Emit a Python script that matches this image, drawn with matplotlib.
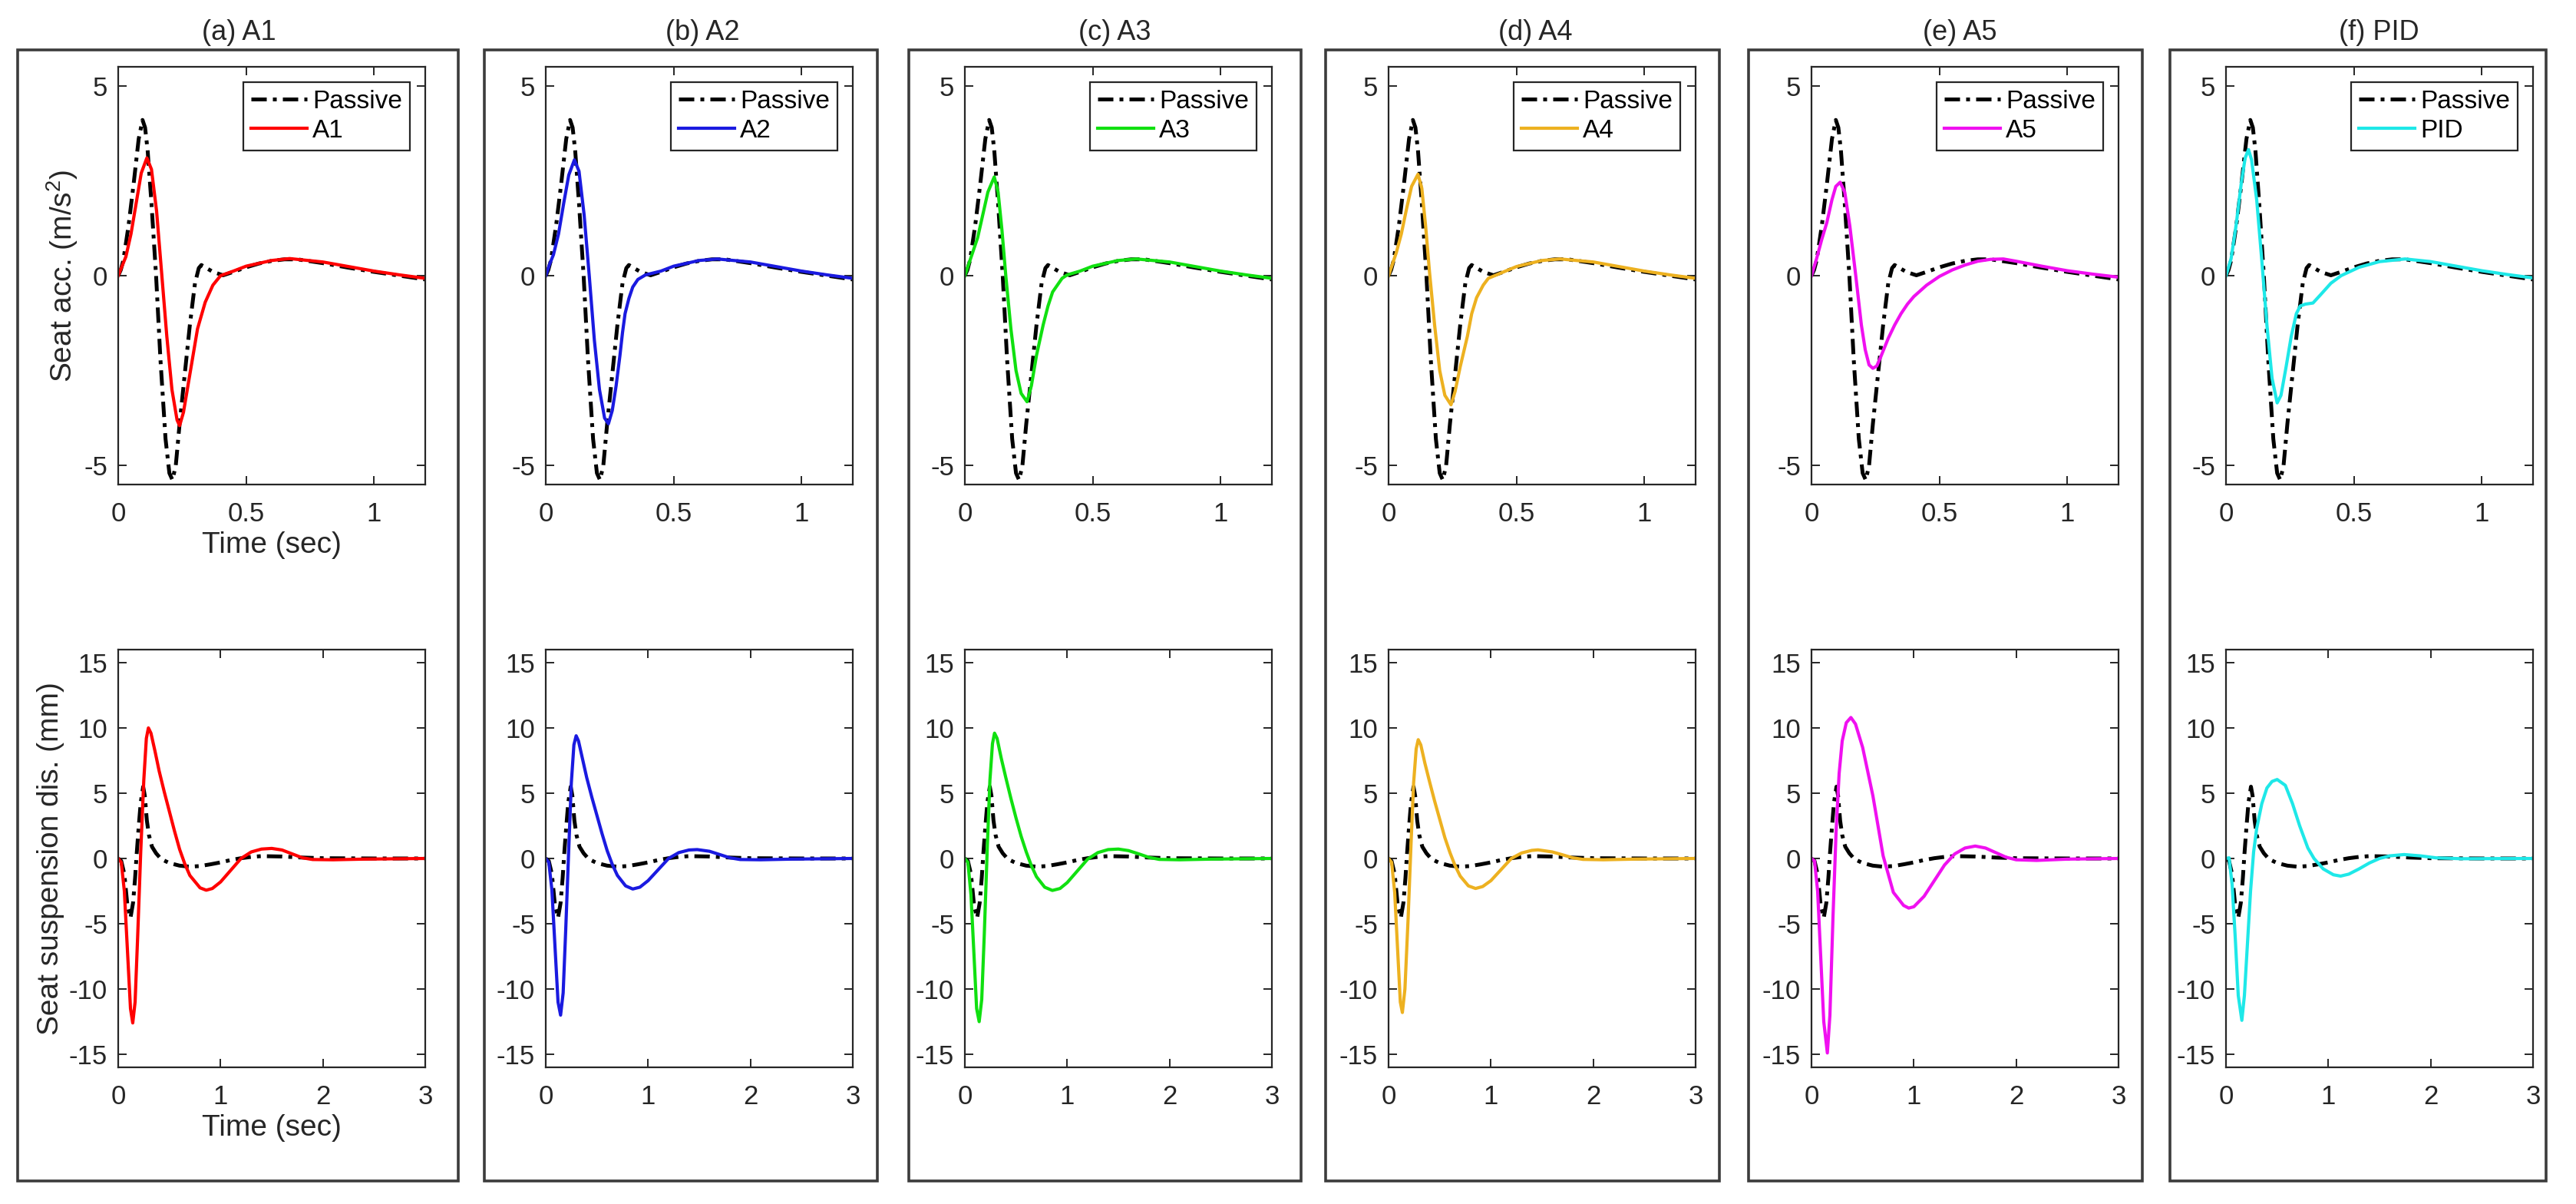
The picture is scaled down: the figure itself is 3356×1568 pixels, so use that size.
import matplotlib
matplotlib.use('Agg')
from matplotlib import pyplot as plt
from matplotlib.patches import Rectangle

plt.rcParams['font.family'] = ['Liberation Sans', 'DejaVu Sans']
plt.rcParams['mathtext.fontset'] = 'custom'
plt.rcParams['mathtext.rm'] = 'Liberation Sans'
plt.rcParams['mathtext.default'] = 'regular'
plt.rcParams['axes.unicode_minus'] = False

# ---- data ----
titles = ['(a) A1', '(b) A2', '(c) A3', '(d) A4', '(e) A5', '(f) PID']
names = ['A1', 'A2', 'A3', 'A4', 'A5', 'PID']
colors = ['#ff0000', '#1a1ae0', '#10e010', '#EDB120', '#f010f0', '#1ee8e8']

# seat acceleration (m/s^2), passive
t_acc_p = [0, 0.01, 0.02, 0.04, 0.06, 0.08, 0.095, 0.105, 0.115, 0.13, 0.148, 0.165, 0.185, 0.2, 0.212,
           0.225, 0.24, 0.26, 0.28, 0.30, 0.315, 0.325, 0.34, 0.37, 0.41, 0.45, 0.5, 0.55, 0.6, 0.65,
           0.7, 0.8, 0.9, 1.0, 1.1, 1.2]
acc_p = [0, 0.15, 0.4, 1.3, 2.4, 3.6, 4.1, 3.9, 3.3, 1.9, 0.0, -2.2, -4.3, -5.2, -5.38,
         -5.0, -3.9, -2.6, -1.3, -0.2, 0.2, 0.28, 0.22, 0.1, 0.01, 0.1, 0.22, 0.32, 0.39, 0.43,
         0.43, 0.33, 0.21, 0.1, 0.0, -0.1]

t_acc_a1 = [0, 0.015, 0.03, 0.05, 0.07, 0.09, 0.112, 0.13, 0.15, 0.17, 0.19, 0.21, 0.23, 0.24, 0.255,
            0.27, 0.29, 0.31, 0.34, 0.37, 0.40, 0.45, 0.5, 0.6, 0.67, 0.8, 0.9, 1.0, 1.1, 1.2]
acc_a1 = [0, 0.25, 0.5, 1.1, 1.9, 2.7, 3.1, 2.8, 1.7, 0.05, -1.6, -3.0, -3.8, -3.95, -3.6,
          -3.0, -2.2, -1.4, -0.7, -0.25, 0.0, 0.12, 0.25, 0.4, 0.45, 0.36, 0.24, 0.12, 0.02, -0.07]

t_acc_a2 = [0, 0.015, 0.03, 0.05, 0.07, 0.09, 0.112, 0.13, 0.15, 0.17, 0.19, 0.21, 0.23, 0.245, 0.26,
            0.275, 0.29, 0.30, 0.31, 0.325, 0.34, 0.36, 0.39, 0.45, 0.5, 0.6, 0.67, 0.8, 0.9, 1.0,
            1.1, 1.2]
acc_a2 = [0, 0.3, 0.55, 1.1, 1.9, 2.65, 3.05, 2.75, 1.6, 0.0, -1.7, -3.0, -3.75, -3.9, -3.55,
          -2.9, -2.1, -1.5, -1.0, -0.6, -0.3, -0.1, 0.02, 0.12, 0.25, 0.4, 0.44, 0.36, 0.24, 0.12,
          0.02, -0.07]

t_acc_a3 = [0, 0.015, 0.03, 0.05, 0.07, 0.09, 0.115, 0.13, 0.145, 0.16, 0.18, 0.2, 0.22, 0.243, 0.26,
            0.28, 0.306, 0.325, 0.343, 0.38, 0.4, 0.45, 0.5, 0.6, 0.67, 0.8, 0.9, 1.0, 1.1, 1.2]
acc_a3 = [0, 0.3, 0.6, 1.0, 1.6, 2.2, 2.6, 2.2, 1.2, 0.0, -1.4, -2.5, -3.1, -3.32, -2.9,
          -2.1, -1.3, -0.8, -0.43, -0.07, 0.02, 0.12, 0.25, 0.4, 0.44, 0.36, 0.24, 0.12, 0.02, -0.07]

t_acc_a4 = [0, 0.015, 0.03, 0.05, 0.07, 0.09, 0.115, 0.13, 0.145, 0.16, 0.18, 0.2, 0.22, 0.244, 0.26,
            0.28, 0.308, 0.325, 0.344, 0.37, 0.39, 0.45, 0.5, 0.6, 0.67, 0.8, 0.9, 1.0, 1.1, 1.2]
acc_a4 = [0, 0.3, 0.6, 1.1, 1.75, 2.35, 2.67, 2.3, 1.3, 0.1, -1.3, -2.5, -3.15, -3.4, -3.05,
          -2.4, -1.6, -1.0, -0.58, -0.25, -0.07, 0.1, 0.24, 0.4, 0.44, 0.36, 0.24, 0.12, 0.02, -0.07]

t_acc_a5 = [0, 0.02, 0.04, 0.06, 0.08, 0.095, 0.112, 0.13, 0.15, 0.173, 0.195, 0.21, 0.225, 0.24, 0.255,
            0.27, 0.285, 0.30, 0.325, 0.35, 0.375, 0.40, 0.45, 0.50, 0.55, 0.60, 0.65, 0.70, 0.75, 0.8,
            0.9, 1.0, 1.1, 1.2]
acc_a5 = [0, 0.45, 0.95, 1.4, 2.0, 2.35, 2.46, 2.2, 1.3, 0.0, -1.3, -1.95, -2.35, -2.44, -2.38,
          -2.15, -1.9, -1.65, -1.3, -1.0, -0.75, -0.55, -0.25, -0.02, 0.15, 0.28, 0.38, 0.43, 0.44, 0.38,
          0.25, 0.13, 0.04, -0.04]

t_acc_pid = [0, 0.02, 0.04, 0.06, 0.075, 0.088, 0.10, 0.12, 0.14, 0.16, 0.18, 0.20, 0.215, 0.235, 0.255,
             0.275, 0.29, 0.31, 0.34, 0.37, 0.41, 0.45, 0.52, 0.6, 0.7, 0.8, 0.9, 1.0, 1.1, 1.2]
acc_pid = [0, 0.45, 1.35, 2.45, 3.1, 3.32, 3.05, 2.0, 0.4, -1.3, -2.7, -3.35, -3.15, -2.4, -1.6,
           -1.0, -0.8, -0.75, -0.72, -0.5, -0.2, 0.0, 0.22, 0.37, 0.44, 0.37, 0.25, 0.13, 0.03, -0.06]

# seat suspension displacement (mm), passive
t_dis_p = [0, 0.03, 0.06, 0.09, 0.12, 0.145, 0.165, 0.18, 0.2, 0.22, 0.244, 0.26, 0.28, 0.30, 0.33,
           0.37, 0.42, 0.5, 0.6, 0.7, 0.8, 0.9, 1.0, 1.1, 1.2, 1.3, 1.4, 1.6, 1.8, 2.0, 2.5, 3.0]
dis_p = [0, -0.2, -1.2, -3.6, -4.55, -3.4, -1.5, 0.3, 2.4, 4.3, 5.5, 4.8, 2.9, 1.8, 0.9,
         0.4, -0.05, -0.35, -0.55, -0.63, -0.58, -0.45, -0.3, -0.12, 0.02, 0.12, 0.18, 0.15, 0.07, 0.02, 0.0, 0.0]

t_dis_a1 = [0, 0.03, 0.06, 0.09, 0.12, 0.142, 0.165, 0.19, 0.22, 0.25, 0.275, 0.295, 0.32, 0.36, 0.4,
            0.45, 0.5, 0.55, 0.6, 0.65, 0.7, 0.8, 0.86, 0.92, 1.0, 1.1, 1.2, 1.3, 1.4, 1.5,
            1.6, 1.7, 1.8, 1.9, 2.1, 2.4, 3.0]
dis_a1 = [0, -0.3, -2.5, -7.0, -11.5, -12.6, -11.0, -6.0, 0.5, 6.0, 9.2, 10.0, 9.6, 8.2, 6.7,
          5.1, 3.6, 2.1, 0.7, -0.4, -1.3, -2.25, -2.43, -2.3, -1.8, -0.9, 0.0, 0.5, 0.72, 0.77,
          0.65, 0.35, 0.05, -0.08, -0.1, -0.05, 0.0]

t_dis_a2 = [0, 0.03, 0.06, 0.09, 0.12, 0.145, 0.17, 0.195, 0.225, 0.25, 0.275, 0.297, 0.32, 0.36, 0.4,
            0.45, 0.5, 0.55, 0.6, 0.65, 0.7, 0.78, 0.85, 0.92, 1.0, 1.1, 1.2, 1.3, 1.4, 1.48,
            1.6, 1.7, 1.8, 1.9, 2.1, 2.4, 3.0]
dis_a2 = [0, -0.3, -2.4, -6.7, -11.0, -12.0, -10.3, -5.5, 0.8, 5.8, 8.7, 9.4, 9.0, 7.6, 6.2,
          4.7, 3.3, 1.9, 0.6, -0.45, -1.3, -2.1, -2.34, -2.2, -1.7, -0.85, 0.0, 0.45, 0.65, 0.68,
          0.55, 0.3, 0.05, -0.08, -0.1, -0.05, 0.0]

t_dis_a3 = [0, 0.03, 0.06, 0.09, 0.115, 0.14, 0.165, 0.19, 0.22, 0.245, 0.27, 0.29, 0.315, 0.355, 0.4,
            0.45, 0.5, 0.55, 0.6, 0.65, 0.7, 0.78, 0.855, 0.93, 1.0, 1.1, 1.2, 1.3, 1.4, 1.5,
            1.6, 1.7, 1.8, 1.9, 2.1, 2.4, 3.0]
dis_a3 = [0, -0.3, -2.8, -7.5, -11.5, -12.5, -10.8, -5.8, 1.0, 6.0, 8.8, 9.6, 9.2, 7.7, 6.2,
          4.6, 3.1, 1.7, 0.5, -0.55, -1.4, -2.2, -2.45, -2.3, -1.85, -0.95, -0.05, 0.45, 0.68, 0.72,
          0.6, 0.35, 0.08, -0.07, -0.1, -0.05, 0.0]

t_dis_a4 = [0, 0.03, 0.06, 0.09, 0.115, 0.135, 0.16, 0.19, 0.22, 0.245, 0.27, 0.29, 0.315, 0.355, 0.4,
            0.45, 0.5, 0.55, 0.6, 0.65, 0.7, 0.78, 0.85, 0.92, 1.0, 1.1, 1.2, 1.3, 1.4, 1.46,
            1.6, 1.7, 1.8, 1.9, 2.1, 2.4, 3.0]
dis_a4 = [0, -0.3, -2.6, -7.2, -11.0, -11.8, -10.0, -4.8, 1.2, 5.8, 8.4, 9.1, 8.7, 7.3, 5.9,
          4.4, 3.0, 1.6, 0.45, -0.55, -1.35, -2.1, -2.3, -2.15, -1.7, -0.85, 0.0, 0.42, 0.62, 0.66,
          0.5, 0.28, 0.05, -0.07, -0.1, -0.05, 0.0]

t_dis_a5 = [0, 0.03, 0.06, 0.09, 0.12, 0.155, 0.18, 0.21, 0.24, 0.27, 0.30, 0.34, 0.385, 0.43, 0.5,
            0.6, 0.7, 0.8, 0.9, 0.95, 1.0, 1.1, 1.2, 1.3, 1.4, 1.5, 1.6, 1.7, 1.8, 1.9,
            2.0, 2.2, 2.5, 3.0]
dis_a5 = [0, -0.2, -2.5, -7.5, -12.5, -14.9, -12.0, -4.5, 2.0, 6.5, 9.0, 10.4, 10.8, 10.3, 8.5,
          4.8, 0.2, -2.6, -3.6, -3.8, -3.7, -2.9, -1.7, -0.5, 0.35, 0.8, 0.95, 0.8, 0.45, 0.1,
          -0.1, -0.15, -0.05, 0.0]

t_dis_pid = [0, 0.03, 0.06, 0.09, 0.12, 0.155, 0.18, 0.21, 0.24, 0.27, 0.30, 0.35, 0.40, 0.45, 0.5,
             0.58, 0.65, 0.72, 0.8, 0.86, 0.95, 1.05, 1.12, 1.2, 1.3, 1.4, 1.5, 1.6, 1.74, 1.9,
             2.05, 2.3, 3.0]
dis_pid = [0, 0.05, -2.0, -6.0, -10.5, -12.4, -10.5, -6.5, -2.5, 0.5, 2.3, 4.2, 5.4, 5.9, 6.05,
           5.6, 4.2, 2.5, 0.8, 0.0, -0.8, -1.25, -1.35, -1.2, -0.8, -0.35, 0.0, 0.2, 0.3, 0.2,
           0.05, -0.02, 0.0]

acc_series = [(t_acc_a1, acc_a1), (t_acc_a2, acc_a2), (t_acc_a3, acc_a3),
              (t_acc_a4, acc_a4), (t_acc_a5, acc_a5), (t_acc_pid, acc_pid)]
dis_series = [(t_dis_a1, dis_a1), (t_dis_a2, dis_a2), (t_dis_a3, dis_a3),
              (t_dis_a4, dis_a4), (t_dis_a5, dis_a5), (t_dis_pid, dis_pid)]

# ---- layout (pixels of the 3356x1568 canvas) ----
W, H = 3356, 1568
ax_left = [154, 711, 1257, 1809, 2360, 2900]
ax_w = 400
box_x = [(23, 597), (631, 1143), (1184, 1695), (1727, 2240), (2278, 2791), (2827, 3317)]
box_y = (65, 1538)
title_x = [311, 915, 1452, 2000, 2553, 3099]

fig = plt.figure(figsize=(W / 200, H / 200), dpi=200)
ink = '#262626'
dashdot = (0, (4, 1.6, 1, 1.6))


def style(ax):
    ax.tick_params(direction='in', top=True, right=True, length=4, width=0.7,
                   labelsize=12.5, colors=ink)
    ax.tick_params(axis='x', pad=8)
    ax.tick_params(axis='y', pad=5)
    for s in ax.spines.values():
        s.set_linewidth(0.8)
        s.set_color(ink)


for i in range(6):
    x0 = ax_left[i] / W
    ax1 = fig.add_axes([x0, 1 - 631 / H, ax_w / W, 544 / H])
    ax2 = fig.add_axes([x0, 1 - 1390 / H, ax_w / W, 544 / H])

    ax1.plot(t_acc_p, acc_p, color='black', lw=1.8, linestyle=dashdot, label='Passive')
    ax1.plot(acc_series[i][0], acc_series[i][1], color=colors[i], lw=1.5, label=names[i])
    ax1.set_xlim(0, 1.2)
    ax1.set_ylim(-5.5, 5.5)
    ax1.set_xticks([0, 0.5, 1])
    ax1.set_xticklabels(['0', '0.5', '1'])
    ax1.set_yticks([-5, 0, 5])
    ax1.set_yticklabels(['-5', '0', '5'])
    style(ax1)
    leg = ax1.legend(loc='upper right', fontsize=12, handlelength=2.2, handletextpad=0.2,
                     borderpad=0.3, labelspacing=0.2, borderaxespad=0.6, fancybox=False,
                     framealpha=1)
    leg.get_frame().set_edgecolor(ink)
    leg.get_frame().set_linewidth(0.8)

    ax2.plot(t_dis_p, dis_p, color='black', lw=1.8, linestyle=dashdot)
    ax2.plot(dis_series[i][0], dis_series[i][1], color=colors[i], lw=1.5)
    ax2.set_xlim(0, 3)
    ax2.set_ylim(-16, 16)
    ax2.set_xticks([0, 1, 2, 3])
    ax2.set_xticklabels(['0', '1', '2', '3'])
    ax2.set_yticks([-15, -10, -5, 0, 5, 10, 15])
    ax2.set_yticklabels(['-15', '-10', '-5', '0', '5', '10', '15'])
    style(ax2)

    if i == 0:
        ax1.set_ylabel('Seat acc. (m/s$^2$)', fontsize=14, color=ink, labelpad=2)
        ax1.set_xlabel('Time (sec)', fontsize=14, color=ink, labelpad=2)
        ax2.set_ylabel('Seat suspension dis. (mm)', fontsize=14, color=ink, labelpad=2)
        ax2.set_xlabel('Time (sec)', fontsize=14, color=ink, labelpad=2)

    bx0, bx1 = box_x[i]
    fig.add_artist(Rectangle((bx0 / W, 1 - box_y[1] / H), (bx1 - bx0) / W, (box_y[1] - box_y[0]) / H,
                             transform=fig.transFigure, fill=False, ec='#3c3c3c', lw=1.3))
    fig.text(title_x[i] / W, 1 - 43 / H, titles[i], ha='center', va='center', fontsize=13, color=ink)

fig.savefig('out.png', dpi=200, facecolor='white')
